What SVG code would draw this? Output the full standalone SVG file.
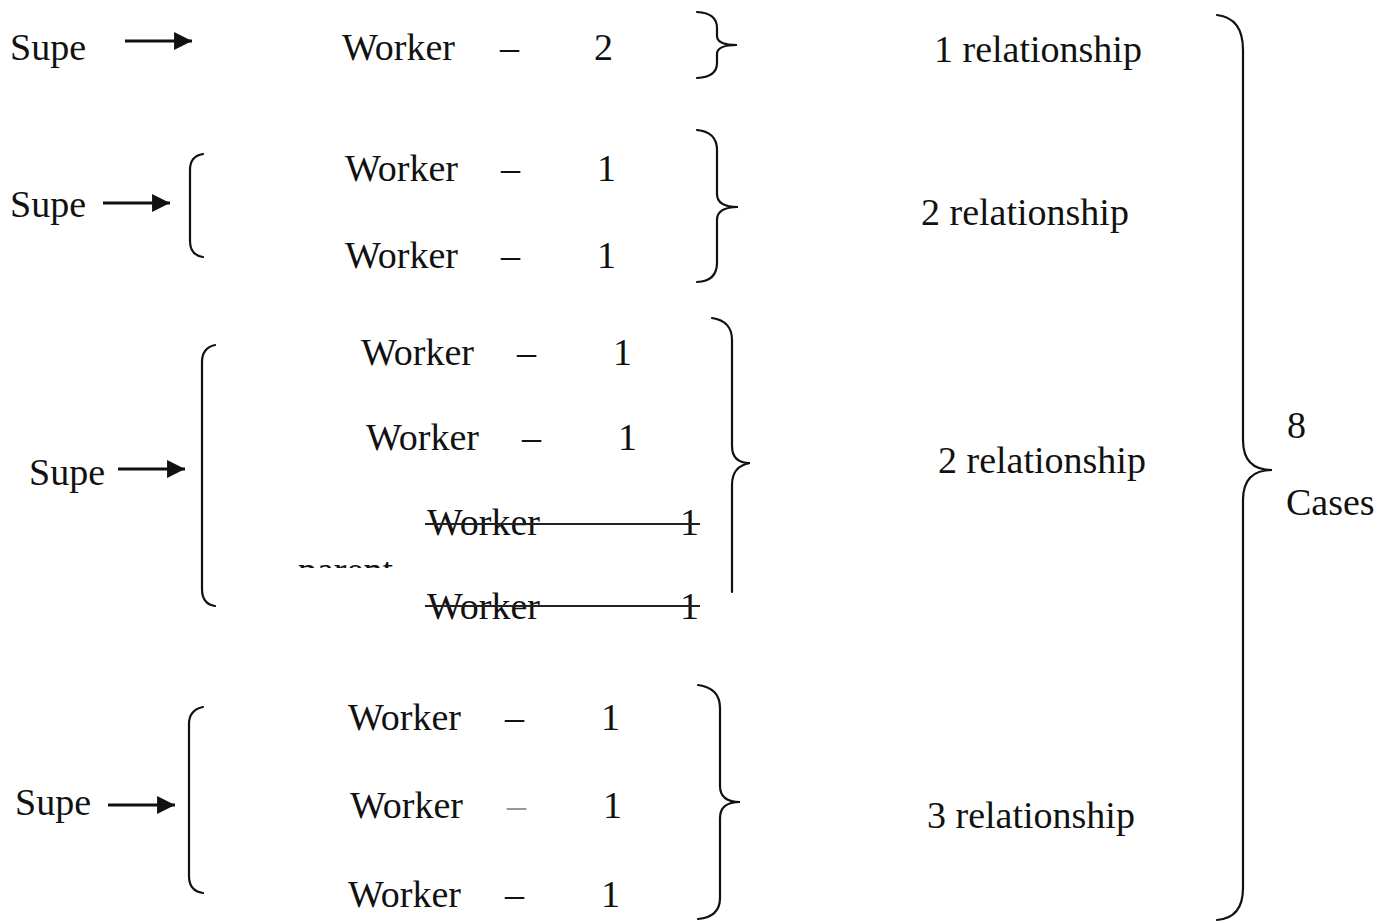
<svg xmlns="http://www.w3.org/2000/svg" width="1391" height="922" viewBox="0 0 1391 922">
<style>
text{font-family:"Liberation Serif","Times New Roman",serif;font-size:38px;fill:#111}
.br{fill:none;stroke:#111;stroke-width:2.2;stroke-linecap:round}
.ar{stroke:#111;stroke-width:3.2;fill:none}
.st{stroke:#222;stroke-width:2}
.lt{fill:#999}
</style>
<defs>
<marker id="ah" viewBox="0 0 10 10" refX="10" refY="5" markerWidth="7.5" markerHeight="5.6" markerUnits="strokeWidth" orient="auto">
<path d="M0 0 L10 5 L0 10 Z" fill="#111"/>
</marker>
<clipPath id="pc"><rect x="290" y="562" width="110" height="6"/></clipPath>
</defs>
<rect width="1391" height="922" fill="#fff"/>

<g id="connectors">
<line class="ar" x1="125" y1="41" x2="192" y2="41" marker-end="url(#ah)"/>
<line class="ar" x1="103" y1="203" x2="170" y2="203" marker-end="url(#ah)"/>
<line class="ar" x1="118" y1="469" x2="185" y2="469" marker-end="url(#ah)"/>
<line class="ar" x1="108" y1="805" x2="175" y2="805" marker-end="url(#ah)"/>
<path class="br" d="M203 154 Q190 156 190 170 L190 241 Q190 255 203 257"/>
<path class="br" d="M215 345 Q202 348 202 362 L202 589 Q202 604 215 606"/>
<path class="br" d="M203 707 Q189 710 189 724 L189 876 Q189 891 203 893"/>
<path class="br" d="M697 12 Q717 13 717 28 L717 36 Q717 45 737 45 Q717 45 717 54 L717 63 Q717 77 697 78"/>
<path class="br" d="M697 130 Q717 132 717 150 L717 194 Q717 207 738 207 Q717 207 717 220 L717 263 Q717 281 697 282"/>
<path class="br" d="M712 318 Q732 321 732 340 L732 446 Q732 463 750 463 Q732 466 732 485 L732 592"/>
<path class="br" d="M698 685 Q720 688 720 708 L720 786 Q720 802 740 802 Q720 802 720 818 L720 898 Q720 917 698 919"/>
<path class="br" d="M1217 15 Q1243 18 1243 50 L1243 440 Q1243 470 1272 470 Q1243 470 1243 500 L1243 888 Q1243 918 1217 920"/>
</g>

<g id="supe1"><text x="10" y="60">Supe</text></g>
<g id="row1"><text x="342" y="60">Worker</text><text x="500" y="60">–</text><text x="594" y="60">2</text></g>
<g id="rel1"><text x="934" y="62">1 relationship</text></g>

<g id="supe2"><text x="10" y="217">Supe</text></g>
<g id="row2a"><text x="345" y="181">Worker</text><text x="501" y="181">–</text><text x="597" y="181">1</text></g>
<g id="row2b"><text x="345" y="268">Worker</text><text x="501" y="268">–</text><text x="597" y="268">1</text></g>
<g id="rel2"><text x="921" y="225">2 relationship</text></g>

<g id="supe3"><text x="29" y="485">Supe</text></g>
<g id="row3a"><text x="361" y="365">Worker</text><text x="517" y="365">–</text><text x="613" y="365">1</text></g>
<g id="row3b"><text x="366" y="450">Worker</text><text x="522" y="450">–</text><text x="618" y="450">1</text></g>
<g id="row3c"><text x="427" y="535">Worker</text><text x="680" y="535">1</text><line class="st" x1="425" y1="524" x2="700" y2="524"/></g>
<g id="parent" clip-path="url(#pc)"><text x="298" y="583">parent</text></g>
<g id="row3d"><text x="427" y="619">Worker</text><text x="680" y="619">1</text><line class="st" x1="425" y1="606" x2="700" y2="606"/></g>
<g id="rel3"><text x="938" y="473">2 relationship</text></g>

<g id="supe4"><text x="15" y="815">Supe</text></g>
<g id="row4a"><text x="348" y="730">Worker</text><text x="505" y="730">–</text><text x="601" y="730">1</text></g>
<g id="row4b"><text x="350" y="818">Worker</text><text class="lt" x="507" y="818">–</text><text x="603" y="818">1</text></g>
<g id="row4c"><text x="348" y="907">Worker</text><text x="505" y="907">–</text><text x="601" y="907">1</text></g>
<g id="rel4"><text x="927" y="828">3 relationship</text></g>

<g id="total"><text x="1287" y="438">8</text><text x="1286" y="515">Cases</text></g>
</svg>
